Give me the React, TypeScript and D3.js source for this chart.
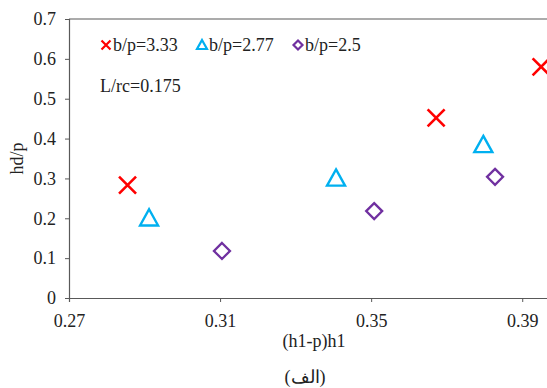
import { useEffect, useRef } from "react";
import * as d3 from "d3";

const width = 547;
const height = 388;
const margin = { top: 19, right: -13, bottom: 90, left: 69 };

// series (x = (h1-p)h1, y = hd/p)
const series333X = [0.2855, 0.3672, 0.395];
const series333Y = [0.283, 0.452, 0.58];
const series277X = [0.2912, 0.3407, 0.3797];
const series277Y = [0.2, 0.3, 0.384];
const series25X = [0.3105, 0.3508, 0.3828];
const series25Y = [0.118, 0.218, 0.304];

const xTicks = [0.27, 0.31, 0.35, 0.39];
const yTicks = [0, 0.1, 0.2, 0.3, 0.4, 0.5, 0.6, 0.7];
const legendLabels = ["b/p=3.33", "b/p=2.77", "b/p=2.5"];

const RED = "#ff0000";
const BLUE = "#00b0f0";
const PURPLE = "#7030a0";
const AXIS = "#595959";
const FONT = "Liberation Serif, Times New Roman, serif";
const FS = "18px";

export default function App() {
  const svgRef = useRef<SVGSVGElement | null>(null);

  useEffect(() => {
    document.body.style.margin = "0";
    if (!svgRef.current) return;
    const svg = d3.select(svgRef.current);
    svg.selectAll("*").remove();

    const x = d3
      .scaleLinear()
      .domain([0.27, 0.4])
      .range([margin.left, width - margin.right]);
    const y = d3
      .scaleLinear()
      .domain([0, 0.7])
      .range([height - margin.bottom, margin.top]);

    // frame top line
    svg
      .append("line")
      .attr("x1", x(0.27))
      .attr("x2", width)
      .attr("y1", y(0.7))
      .attr("y2", y(0.7))
      .attr("stroke", AXIS)
      .attr("stroke-width", 1.2);

    // y axis
    const yAxis = svg
      .append("g")
      .attr("transform", `translate(${x(0.27)},0)`)
      .call(
        d3
          .axisLeft(y)
          .tickValues(yTicks)
          .tickSize(4)
          .tickPadding(9)
          .tickFormat((d) => (d === 0 ? "0" : d3.format(".1f")(d as number))),
      );

    // x axis
    const xAxis = svg
      .append("g")
      .attr("transform", `translate(0,${y(0)})`)
      .call(
        d3
          .axisBottom(x)
          .tickValues(xTicks)
          .tickSize(4)
          .tickPadding(12)
          .tickFormat((d) => d3.format(".2f")(d as number)),
      );

    [xAxis, yAxis].forEach((g) => {
      g.attr("font-family", FONT).attr("font-size", FS);
      g.select(".domain").attr("stroke", AXIS).attr("stroke-width", 1.2);
      g.selectAll(".tick line").attr("stroke", AXIS);
      g.selectAll("text").attr("fill", "#222");
    });

    const label = (tx: number, ty: number, txt: string) =>
      svg
        .append("text")
        .attr("x", tx)
        .attr("y", ty)
        .attr("fill", "#222")
        .attr("font-family", FONT)
        .attr("font-size", FS)
        .text(txt);

    // axis titles
    label(314, 347, "(h1-p)h1").attr("text-anchor", "middle");
    label(0, 0, "hd/p")
      .attr("text-anchor", "middle")
      .attr("transform", `translate(23,${(y(0) + y(0.7)) / 2}) rotate(-90)`);
    label(305, 383, "(الف)").attr("text-anchor", "middle");

    const cross = (s: number) =>
      `M${-s},${-s}L${s},${s}M${-s},${s}L${s},${-s}`;
    const tri = (s: number) =>
      `M0,${-s}L${s},${s * 0.8}L${-s},${s * 0.8}Z`;
    const diamond = (s: number) => `M0,${-s}L${s},0L0,${s}L${-s},0Z`;

    const groups = [
      { xs: series333X, ys: series333Y, color: RED, path: cross(8.5), w: 2.6 },
      { xs: series277X, ys: series277Y, color: BLUE, path: tri(9), w: 2.4 },
      { xs: series25X, ys: series25Y, color: PURPLE, path: diamond(8), w: 2.3 },
    ];

    groups.forEach((gr) => {
      svg
        .append("g")
        .selectAll("path")
        .data(gr.xs.map((v, i) => [v, gr.ys[i]]))
        .join("path")
        .attr("transform", (d) => `translate(${x(d[0])},${y(d[1])})`)
        .attr("d", gr.path)
        .attr("fill", "none")
        .attr("stroke", gr.color)
        .attr("stroke-width", gr.w);
    });

    // legend
    const legendX = [106, 202, 298];
    const legendPaths = [cross(4.5), tri(5), diamond(4.5)];
    legendLabels.forEach((lab, i) => {
      svg
        .append("path")
        .attr("transform", `translate(${legendX[i]},45)`)
        .attr("d", legendPaths[i])
        .attr("fill", "none")
        .attr("stroke", groups[i].color)
        .attr("stroke-width", 2.2);
      label(legendX[i] + 7, 51, lab);
    });

    label(100, 92, "L/rc=0.175");
  }, []);

  return (
    <svg
      ref={svgRef}
      width={width}
      height={height}
      viewBox={`0 0 ${width} ${height}`}
      style={{ display: "block", background: "#fff" }}
    />
  );
}
